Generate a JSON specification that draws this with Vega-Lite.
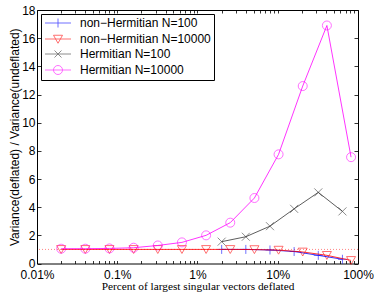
{
  "$schema": "https://vega.github.io/schema/vega-lite/v6.json",
  "width": 321,
  "height": 253.5,
  "autosize": {"type": "none"},
  "padding": {"left": 37, "top": 10, "right": 16, "bottom": 30.5},
  "config": {
    "view": {"stroke": "#000", "strokeWidth": 1},
    "axis": {
      "labelFont": "Liberation Sans",
      "labelFontSize": 12,
      "labelColor": "#000",
      "tickColor": "#000",
      "tickWidth": 0.8,
      "grid": false,
      "domain": false,
      "titleColor": "#000",
      "titleFontWeight": "normal"
    }
  },
  "data": {
    "values": [
      {"s": "non−Hermitian N=100", "p": 2, "v": 1.0},
      {"s": "non−Hermitian N=100", "p": 4, "v": 1.0},
      {"s": "non−Hermitian N=100", "p": 8, "v": 0.96},
      {"s": "non−Hermitian N=100", "p": 16, "v": 0.85},
      {"s": "non−Hermitian N=100", "p": 32, "v": 0.58},
      {"s": "non−Hermitian N=100", "p": 64, "v": 0.3},
      {"s": "non−Hermitian N=10000", "p": 0.02, "v": 1.0},
      {"s": "non−Hermitian N=10000", "p": 0.04, "v": 1.0},
      {"s": "non−Hermitian N=10000", "p": 0.08, "v": 1.0},
      {"s": "non−Hermitian N=10000", "p": 0.16, "v": 1.0},
      {"s": "non−Hermitian N=10000", "p": 0.32, "v": 1.0},
      {"s": "non−Hermitian N=10000", "p": 0.64, "v": 1.0},
      {"s": "non−Hermitian N=10000", "p": 1.28, "v": 1.0},
      {"s": "non−Hermitian N=10000", "p": 2.56, "v": 1.0},
      {"s": "non−Hermitian N=10000", "p": 5.12, "v": 0.99},
      {"s": "non−Hermitian N=10000", "p": 10.24, "v": 0.95},
      {"s": "non−Hermitian N=10000", "p": 20.48, "v": 0.82},
      {"s": "non−Hermitian N=10000", "p": 40.96, "v": 0.58},
      {"s": "non−Hermitian N=10000", "p": 81.92, "v": 0.22},
      {"s": "Hermitian N=100", "p": 2, "v": 1.55},
      {"s": "Hermitian N=100", "p": 4, "v": 1.9},
      {"s": "Hermitian N=100", "p": 8, "v": 2.65},
      {"s": "Hermitian N=100", "p": 16, "v": 3.88},
      {"s": "Hermitian N=100", "p": 32, "v": 5.05},
      {"s": "Hermitian N=100", "p": 64, "v": 3.7},
      {"s": "Hermitian N=10000", "p": 0.02, "v": 1.05},
      {"s": "Hermitian N=10000", "p": 0.04, "v": 1.05},
      {"s": "Hermitian N=10000", "p": 0.08, "v": 1.07},
      {"s": "Hermitian N=10000", "p": 0.16, "v": 1.12},
      {"s": "Hermitian N=10000", "p": 0.32, "v": 1.28},
      {"s": "Hermitian N=10000", "p": 0.64, "v": 1.5},
      {"s": "Hermitian N=10000", "p": 1.28, "v": 2.0},
      {"s": "Hermitian N=10000", "p": 2.56, "v": 2.9},
      {"s": "Hermitian N=10000", "p": 5.12, "v": 4.65},
      {"s": "Hermitian N=10000", "p": 10.24, "v": 7.75},
      {"s": "Hermitian N=10000", "p": 20.48, "v": 12.6},
      {"s": "Hermitian N=10000", "p": 40.96, "v": 16.9},
      {"s": "Hermitian N=10000", "p": 81.92, "v": 7.55}
    ]
  },
  "resolve": {"axis": {"x": "independent", "y": "independent"}},
  "layer": [
    {
      "data": {"values": [{}]},
      "mark": {"type": "rule", "color": "#ff7777", "strokeDash": [1, 2], "strokeWidth": 0.9},
      "encoding": {
        "y": {
          "datum": 1,
          "type": "quantitative",
          "scale": {"domain": [0, 18], "nice": false},
          "axis": {"orient": "right", "labels": false, "title": null, "tickSize": -4, "values": [0, 2, 4, 6, 8, 10, 12, 14, 16, 18]}
        }
      }
    },
    {
      "transform": [{"filter": "datum.s === 'non−Hermitian N=100'"}],
      "mark": {"type": "point", "filled": false, "size": 81, "strokeWidth": 0.8, "shape": "M-1,0H1M0,-1V1"},
      "encoding": {
        "x": {
          "field": "p",
          "type": "quantitative",
          "scale": {"type": "log", "domain": [0.01, 100], "nice": false},
          "axis": {
            "orient": "top",
            "values": [0.01,0.02,0.03,0.04,0.05,0.06,0.07,0.08,0.09,0.1,0.2,0.3,0.4,0.5,0.6,0.7,0.8,0.9,1,2,3,4,5,6,7,8,9,10,20,30,40,50,60,70,80,90,100],
            "labels": false,
            "title": null,
            "tickSize": -3
          }
        },
        "y": {"field": "v", "type": "quantitative", "scale": {"domain": [0, 18], "nice": false}, "axis": null},
        "color": {
          "field": "s",
          "type": "nominal",
          "scale": {
            "domain": ["non−Hermitian N=100", "non−Hermitian N=10000", "Hermitian N=100", "Hermitian N=10000"],
            "range": ["#0000ff", "#ff0000", "#333333", "#ff00ff"]
          },
          "legend": {
            "title": null,
            "orient": "top-left",
            "offset": 4,
            "padding": 3,
            "strokeColor": "#000",
            "fillColor": "#fff",
            "symbolSize": 100,
            "symbolStrokeWidth": 0.8,
            "symbolOffset": 8,
            "labelOffset": 16,
            "labelFont": "Liberation Sans",
            "labelFontSize": 12,
            "labelColor": "#000",
            "labelLimit": 300,
            "rowPadding": 3,
            "symbolType": {"expr": "datum.value === 'non−Hermitian N=100' ? 'M-2.6,0H2.6M0,-0.9V0.9' : datum.value === 'non−Hermitian N=10000' ? 'M-2.6,0H2.6M-0.9,-0.75H0.9L0,0.85Z' : datum.value === 'Hermitian N=100' ? 'M-2.6,0H2.6M-0.7,-0.7L0.7,0.7M-0.7,0.7L0.7,-0.7' : 'M-2.6,0H2.6M0.9,0A0.9,0.9,0,1,1,-0.9,0A0.9,0.9,0,1,1,0.9,0'"},
            "encode": {
              "legend": {
                "stroke": {"value": "#000"},
                "strokeWidth": {"value": 0.8},
                "fill": {"value": "#fff"}
              },
              "symbols": {
                "fill": {"value": "transparent"}
              }
            }
          }
        }
      }
    },
    {
      "transform": [{"filter": "datum.s === 'non−Hermitian N=10000'"}],
      "mark": {"type": "point", "filled": false, "size": 81, "strokeWidth": 0.8, "shape": "M-1,-0.85H1L0,0.9Z"},
      "encoding": {
        "x": {"field": "p", "type": "quantitative", "scale": {"type": "log", "domain": [0.01, 100], "nice": false}, "axis": null},
        "y": {"field": "v", "type": "quantitative", "scale": {"domain": [0, 18], "nice": false}, "axis": null},
        "color": {"field": "s", "type": "nominal"}
      }
    },
    {
      "transform": [{"filter": "datum.s === 'Hermitian N=100'"}],
      "mark": {"type": "point", "filled": false, "size": 64, "strokeWidth": 0.8, "shape": "M-1,-1L1,1M-1,1L1,-1"},
      "encoding": {
        "x": {"field": "p", "type": "quantitative", "scale": {"type": "log", "domain": [0.01, 100], "nice": false}, "axis": null},
        "y": {"field": "v", "type": "quantitative", "scale": {"domain": [0, 18], "nice": false}, "axis": null},
        "color": {"field": "s", "type": "nominal"}
      }
    },
    {
      "transform": [{"filter": "datum.s === 'Hermitian N=10000'"}],
      "mark": {"type": "point", "filled": false, "size": 81, "strokeWidth": 0.8, "shape": "circle"},
      "encoding": {
        "x": {"field": "p", "type": "quantitative", "scale": {"type": "log", "domain": [0.01, 100], "nice": false}, "axis": null},
        "y": {"field": "v", "type": "quantitative", "scale": {"domain": [0, 18], "nice": false}, "axis": null},
        "color": {"field": "s", "type": "nominal"}
      }
    },
    {
      "mark": {"type": "line", "strokeWidth": 0.8},
      "encoding": {
        "x": {
          "field": "p",
          "type": "quantitative",
          "scale": {"type": "log", "domain": [0.01, 100], "nice": false},
          "axis": {
            "orient": "bottom",
            "values": [0.01,0.02,0.03,0.04,0.05,0.06,0.07,0.08,0.09,0.1,0.2,0.3,0.4,0.5,0.6,0.7,0.8,0.9,1,2,3,4,5,6,7,8,9,10,20,30,40,50,60,70,80,90,100],
            "labelExpr": "datum.value == 0.01 ? '0.01%' : datum.value == 0.1 ? '0.1%' : datum.value == 1 ? '1%' : datum.value == 10 ? '10%' : datum.value == 100 ? '100%' : ''",
            "tickSize": -3,
            "labelPadding": 9,
            "labelFlush": false,
            "labelOverlap": false,
            "title": "Percent of largest singular vectors deflated",
            "titleFont": "Liberation Serif",
            "titleFontSize": 11.3,
            "titlePadding": 0
          }
        },
        "y": {
          "field": "v",
          "type": "quantitative",
          "scale": {"domain": [0, 18], "nice": false},
          "axis": {
            "orient": "left",
            "values": [0, 2, 4, 6, 8, 10, 12, 14, 16, 18],
            "tickSize": -4,
            "labelPadding": 6,
            "title": "Variance(deflated) / Variance(undeflated)",
            "titleFont": "Liberation Sans",
            "titleFontSize": 12,
            "titlePadding": 0
          }
        },
        "color": {"field": "s", "type": "nominal"}
      }
    }
  ]
}
